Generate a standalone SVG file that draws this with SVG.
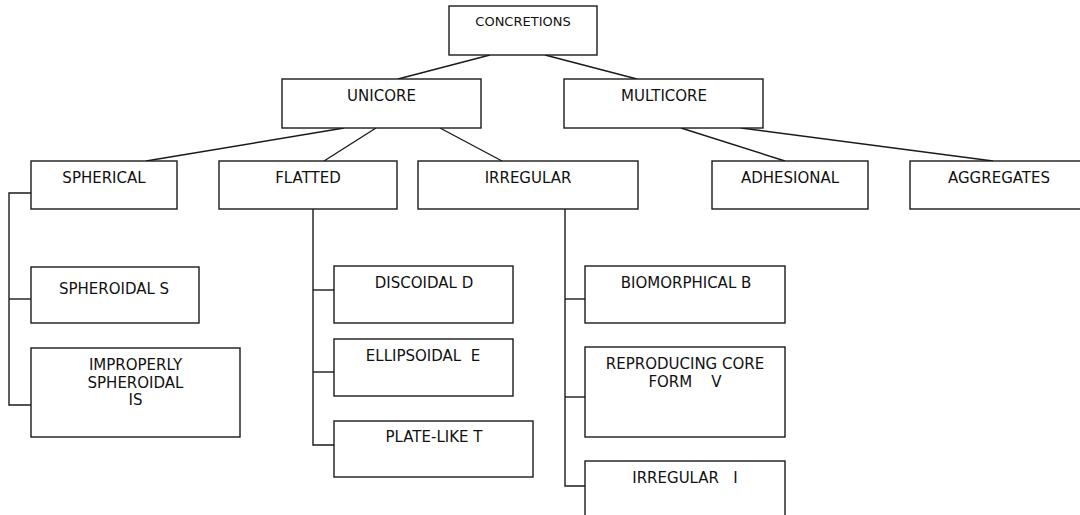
<svg xmlns="http://www.w3.org/2000/svg" width="1080" height="515" viewBox="0 0 1080 515">
<style>
rect{fill:#fff;stroke:#1a1a1a;stroke-width:1.4}
.c line,.c polyline{fill:none;stroke:#1a1a1a;stroke-width:1.4}
text{font-family:"DejaVu Sans",sans-serif;font-size:15px;fill:#111;text-anchor:middle;white-space:pre}
.sm{font-size:13px}
</style>
<rect width="1080" height="515" style="fill:#fff;stroke:none"/>
<g class="c" id="connectors">
<line x1="490" y1="55" x2="398" y2="79"/>
<line x1="545" y1="55" x2="637" y2="79"/>
<line x1="344" y1="128" x2="146" y2="161"/>
<line x1="376" y1="128" x2="324" y2="161"/>
<line x1="440" y1="128" x2="502" y2="161"/>
<line x1="681" y1="128" x2="785" y2="161"/>
<line x1="741" y1="128" x2="993" y2="161"/>
<polyline points="31,193 9,193 9,405 31,405"/>
<line x1="9" y1="299" x2="31" y2="299"/>
<polyline points="313,209 313,445 334,445"/>
<line x1="313" y1="290" x2="334" y2="290"/>
<line x1="313" y1="372" x2="334" y2="372"/>
<polyline points="565,209 565,486 585,486"/>
<line x1="565" y1="299" x2="585" y2="299"/>
<line x1="565" y1="397" x2="585" y2="397"/>
</g>
<g id="concretions"><rect x="449" y="6" width="148" height="49"/><text class="sm" x="523" y="26">CONCRETIONS</text></g>
<g id="unicore"><rect x="282" y="79" width="199" height="49"/><text x="381.5" y="101">UNICORE</text></g>
<g id="multicore"><rect x="564" y="79" width="199" height="49"/><text x="664" y="101">MULTICORE</text></g>
<g id="spherical"><rect x="31" y="161" width="146" height="48"/><text x="104" y="183">SPHERICAL</text></g>
<g id="flatted"><rect x="219" y="161" width="178" height="48"/><text x="308" y="183">FLATTED</text></g>
<g id="irregular"><rect x="418" y="161" width="220" height="48"/><text x="528" y="183">IRREGULAR</text></g>
<g id="adhesional"><rect x="712" y="161" width="156" height="48"/><text x="790" y="183">ADHESIONAL</text></g>
<g id="aggregates"><rect x="910" y="161" width="178" height="48"/><text x="999" y="183">AGGREGATES</text></g>
<g id="spheroidal"><rect x="31" y="267" width="168" height="56"/><text x="114" y="294">SPHEROIDAL S</text></g>
<g id="improperly"><rect x="31" y="348" width="209" height="89"/><text x="135.5" y="370">IMPROPERLY</text><text x="135.5" y="387.5">SPHEROIDAL</text><text x="135.5" y="405">IS</text></g>
<g id="discoidal"><rect x="334" y="266" width="179" height="57"/><text x="424" y="288">DISCOIDAL D</text></g>
<g id="ellipsoidal"><rect x="334" y="339" width="179" height="57"/><text x="423" y="361">ELLIPSOIDAL  E</text></g>
<g id="platelike"><rect x="334" y="421" width="199" height="56"/><text x="434" y="442">PLATE-LIKE T</text></g>
<g id="biomorphical"><rect x="585" y="266" width="200" height="57"/><text x="686" y="288">BIOMORPHICAL B</text></g>
<g id="reproducing"><rect x="585" y="347" width="200" height="90"/><text x="685" y="369">REPRODUCING CORE</text><text x="685" y="387">FORM    V</text></g>
<g id="irregular-i"><rect x="585" y="461" width="200" height="70"/><text x="685" y="483">IRREGULAR   I</text></g>
</svg>
